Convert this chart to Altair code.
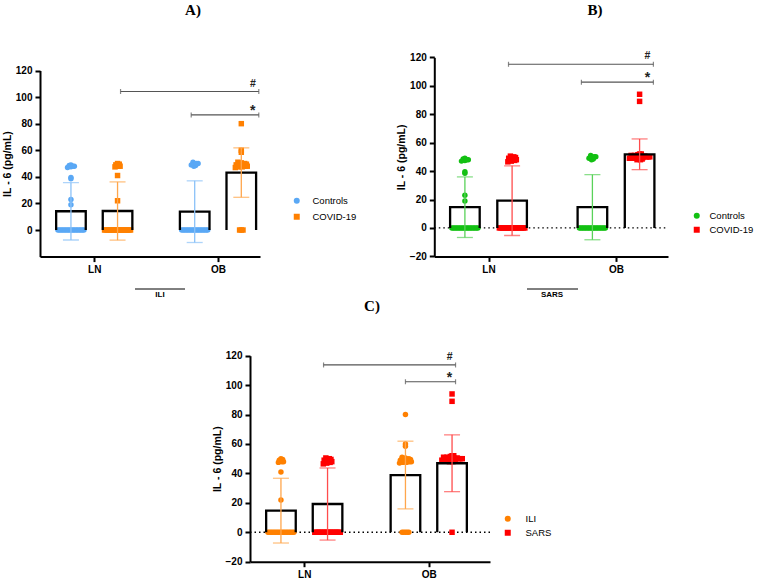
import altair as alt
import pandas as pd

W, H = 757, 582
FONT = "Liberation Sans"
SERIF = "Liberation Serif"

REGIONS = ["LN", "OB"]
Y_TITLE = "IL - 6 (pg/mL)"

# ---------------- Panel A (ILI) ----------------
A_TITLE = "A)"
A_GROUP_LABEL = "ILI"
A_GROUPS = ["Controls", "COVID-19"]
A_COLORS = ["#5AA8F5", "#FF8000"]
# order: LN-Controls, LN-COVID, OB-Controls, OB-COVID
A_MEANS = [14.1, 14.3, 13.8, 43.2]
A_SDS = [21.6, 21.9, 23.2, 18.6]
A_LN_G0 = [49, 48, 47.5, 48.5, 47, 48, 39.5, 38.5, 23, 19,
           0, 0, 0, 0, 0, 0, 0, 0, 0, 0, 0, 0, 0, 0, 0, 0, 0, 0]
A_LN_G1 = [50, 49, 48.5, 48, 47.5, 49.5, 48, 41, 22,
           0, 0, 0, 0, 0, 0, 0, 0, 0, 0, 0, 0, 0, 0, 0, 0, 0, 0]
A_OB_G0 = [51, 50, 49.5, 48.5, 48, 50, 49,
           0, 0, 0, 0, 0, 0, 0, 0, 0, 0, 0, 0, 0, 0, 0, 0, 0, 0]
A_OB_G1 = [80, 60, 58.5, 50.5, 49.5, 49, 48.5, 48, 47.5, 50, 49, 48, 47, 49.5,
           48.5, 51, 47.5, 48, 0, 0, 0]
A_BR_LABELS = ["#", "*"]
A_BR_Y = [104.2, 86.6]
A_BR_FROM = [("LN", "COVID-19"), ("OB", "Controls")]
A_BR_TO = [("OB", "COVID-19"), ("OB", "COVID-19")]

# ---------------- Panel B (SARS) ----------------
B_TITLE = "B)"
B_GROUP_LABEL = "SARS"
B_GROUPS = ["Controls", "COVID-19"]
B_COLORS = ["#12C012", "#FF0000"]
B_MEANS = [14.6, 19.2, 14.6, 51.8]
B_SDS = [21.3, 24.5, 22.9, 10.8]
B_LN_G0 = [49, 48, 47.5, 48.5, 47, 48, 39.5, 38.5, 23, 19,
           0, 0, 0, 0, 0, 0, 0, 0, 0, 0, 0, 0, 0, 0, 0, 0, 0, 0]
B_LN_G1 = [50, 49.5, 49, 48.5, 48, 50.5, 47.5, 49, 48, 47, 46.5,
           0, 0, 0, 0, 0, 0, 0, 0, 0, 0, 0, 0, 0, 0, 0, 0]
B_OB_G0 = [51, 50, 49.5, 48.5, 48, 50, 49,
           0, 0, 0, 0, 0, 0, 0, 0, 0, 0, 0, 0, 0, 0, 0, 0, 0, 0]
B_OB_G1 = [94, 89, 52, 51, 50.5, 50, 49.5, 49, 48.5, 48, 51.5, 50, 49, 48.5,
           50.5, 49.5, 51, 48, 50, 49, 52, 50.5]
B_BR_LABELS = ["#", "*"]
B_BR_Y = [115.1, 102.5]
B_BR_FROM = [("LN", "COVID-19"), ("OB", "Controls")]
B_BR_TO = [("OB", "COVID-19"), ("OB", "COVID-19")]

# ---------------- Panel C (ILI vs SARS) ----------------
C_TITLE = "C)"
C_GROUPS = ["ILI", "SARS"]
C_COLORS = ["#FF8000", "#FF0000"]
C_MEANS = [14.7, 19.2, 38.9, 46.9]
C_SDS = [22.0, 24.5, 23.0, 19.3]
C_LN_G0 = [50, 49, 48.5, 48, 47.5, 49.5, 48, 41, 22,
           0, 0, 0, 0, 0, 0, 0, 0, 0, 0, 0, 0, 0, 0, 0, 0, 0, 0]
C_LN_G1 = [50, 49.5, 49, 48.5, 48, 50.5, 47.5, 49, 48, 47, 46.5,
           0, 0, 0, 0, 0, 0, 0, 0, 0, 0, 0, 0, 0, 0, 0, 0]
C_OB_G0 = [80, 60, 58.5, 50.5, 49.5, 49, 48.5, 48, 47.5, 50, 49, 48, 47, 49.5,
           48.5, 51, 47.5, 48, 0, 0, 0, 0, 0]
C_OB_G1 = [94, 89, 52, 51, 50.5, 50, 49.5, 49, 48.5, 48, 51.5, 50, 49, 48.5,
           50.5, 49.5, 51, 48, 50, 49, 52, 50.5, 0]
C_BR_LABELS = ["#", "*"]
C_BR_Y = [113.7, 102.3]
C_BR_FROM = [("LN", "SARS"), ("OB", "ILI")]
C_BR_TO = [("OB", "SARS"), ("OB", "SARS")]

# ---------------- layout / style (pixels) ----------------
PANELS = [
    dict(title=A_TITLE, title_xy=(193, 10), group_label=A_GROUP_LABEL,
         gl_line=(135, 185, 289), gl_text=(160, 295),
         groups=A_GROUPS, colors=A_COLORS, means=A_MEANS, sds=A_SDS,
         values=[A_LN_G0, A_LN_G1, A_OB_G0, A_OB_G1],
         br=(A_BR_LABELS, A_BR_Y, A_BR_FROM, A_BR_TO),
         br_nudge_left=[3, -3.5], br_nudge_right=17.5,
         x0=40, x1=260, y_bot=256.6, y_top=70.5, ln=94.25, ob=218.0, goff=23.3,
         yticks=[0, 20, 40, 60, 80, 100, 120], zero_line=False,
         legend=(292, 196, 11, 5)),
    dict(title=B_TITLE, title_xy=(595, 10), group_label=B_GROUP_LABEL,
         gl_line=(527, 578, 289), gl_text=(552, 295),
         groups=B_GROUPS, colors=B_COLORS, means=B_MEANS, sds=B_SDS,
         values=[B_LN_G0, B_LN_G1, B_OB_G0, B_OB_G1],
         br=(B_BR_LABELS, B_BR_Y, B_BR_FROM, B_BR_TO),
         br_nudge_left=[-3.6, -11], br_nudge_right=13.8,
         x0=434.3, x1=668, y_bot=256.4, y_top=57.3, ln=488.5, ob=616.0, goff=23.6,
         yticks=[-20, 0, 20, 40, 60, 80, 100, 120], zero_line=True,
         legend=(692, 211, 8, 3)),
    dict(title=C_TITLE, title_xy=(372, 306), group_label=None,
         groups=C_GROUPS, colors=C_COLORS, means=C_MEANS, sds=C_SDS,
         values=[C_LN_G0, C_LN_G1, C_OB_G0, C_OB_G1],
         br=(C_BR_LABELS, C_BR_Y, C_BR_FROM, C_BR_TO),
         br_nudge_left=[-4, 0], br_nudge_right=3.5,
         x0=250, x1=490, y_bot=561.7, y_top=355.7, ln=304.25, ob=428.75, goff=23.3,
         yticks=[-20, 0, 20, 40, 60, 80, 100, 120], zero_line=True,
         legend=(503, 514, 13, 3)),
]
BAR_HALF_PX = 14.8
CAP_PX = 16
JIT_SPACING_PX = 1.7
JIT_MAX_PX = 13
LEGEND_FONT_SIZE = 9.5


def lighten(hex_color, f):
    h = hex_color.lstrip("#")
    r, g, b = (int(h[i:i + 2], 16) for i in (0, 2, 4))
    r, g, b = (int(c + (255 - c) * f) for c in (r, g, b))
    return f"#{r:02x}{g:02x}{b:02x}"


def jitter_px(values):
    bins = {}
    for i, v in enumerate(values):
        bins.setdefault(round(v / 2.5), []).append(i)
    offs = [0.0] * len(values)
    for idxs in bins.values():
        k = len(idxs)
        if k == 1:
            continue
        half = min((k - 1) * JIT_SPACING_PX / 2, JIT_MAX_PX)
        order = sorted(idxs, key=lambda i: values[i])
        slots = list(range(k))
        arranged = slots[0::2] + slots[1::2][::-1]
        for pos, i in zip(arranged, order):
            offs[i] = -half + 2 * half * pos / (k - 1)
    return offs


def build_panel(P):
    unit = P["ob"] - P["ln"]
    xdom = [(P["x0"] - P["ln"]) / unit, (P["x1"] - P["ln"]) / unit]
    xs = alt.Scale(domain=xdom, range=[P["x0"], P["x1"]], nice=False, zero=False)
    ys = alt.Scale(domain=[-20, 120], range=[P["y_bot"], P["y_top"]], nice=False, zero=False)
    label_expr = "[" + ",".join(f"'{r}'" for r in REGIONS) + "][datum.value]"
    xaxis = alt.Axis(orient="bottom", offset=P["y_bot"] - H, values=[0, 1],
                     labelExpr=label_expr, title=None, grid=False,
                     domainColor="black", domainWidth=2, tickColor="black",
                     tickWidth=2, tickSize=5, labelFont=FONT, labelFontSize=10,
                     labelFontWeight="bold", labelColor="black", labelPadding=3)
    yaxis = alt.Axis(orient="left", offset=-P["x0"], values=P["yticks"],
                     title=Y_TITLE, grid=False, domainColor="black", domainWidth=2,
                     tickColor="black", tickWidth=2, tickSize=5, labelFont=FONT,
                     labelFontSize=10, labelFontWeight="bold", labelColor="black",
                     labelPadding=3, titleFont=FONT, titleFontSize=10.5,
                     titleFontWeight="bold", titleColor="black", titlePadding=3)

    def X(f):
        return alt.X(f, type="quantitative", scale=xs, axis=xaxis)

    def Y(f):
        return alt.Y(f, type="quantitative", scale=ys, axis=yaxis)

    groups = P["groups"]
    goff = [-P["goff"] / unit, P["goff"] / unit]
    bh = BAR_HALF_PX / unit

    def center(region, group):
        return REGIONS.index(region) + goff[groups.index(group)]

    bar_rows, err_rows, cap_rows, pt_rows = [], [], [], []
    k = 0
    for ri, r in enumerate(REGIONS):
        for gi, g in enumerate(groups):
            m, sd = P["means"][k], P["sds"][k]
            xc = ri + goff[gi]
            bid = f"{r}-{g}"
            for o, (xx, yy) in enumerate([(xc - bh, 0), (xc - bh, m), (xc + bh, m), (xc + bh, 0)]):
                bar_rows.append(dict(bar=bid, ord=o, x=xx, y=yy))
            ec = lighten(P["colors"][gi], 0.3)
            err_rows.append(dict(x=xc, lo=m - sd, hi=m + sd, ecolor=ec))
            cap_rows.append(dict(x=xc, y=m - sd, ecolor=ec))
            cap_rows.append(dict(x=xc, y=m + sd, ecolor=ec))
            vals = P["values"][k]
            for v, j in zip(vals, jitter_px(vals)):
                pt_rows.append(dict(group=g, region=r, value=v, x=xc + j / unit))
            k += 1

    bar_df = pd.DataFrame(bar_rows)
    err_df = pd.DataFrame(err_rows)
    cap_df = pd.DataFrame(cap_rows)
    pt_df = pd.DataFrame(pt_rows)

    lx, ly, loff, lrow = P["legend"]
    leg = alt.Legend(orient="none", legendX=lx, legendY=ly, title=None,
                     labelFont=FONT, labelFontSize=LEGEND_FONT_SIZE, labelColor="black",
                     symbolSize=36, labelOffset=loff, rowPadding=lrow, padding=0,
                     symbolStrokeWidth=0)

    layers = []
    if P["zero_line"]:
        zdf = pd.DataFrame({"x1": [xdom[0]], "x2": [xdom[1]], "y": [0]})
        layers.append(alt.Chart(zdf).mark_rule(color="black", strokeWidth=1.3,
                                               strokeDash=[1.5, 3]).encode(
            x=X("x1"), x2="x2", y=Y("y")))

    layers.append(alt.Chart(pt_df).mark_point(filled=True, size=30, opacity=1,
                                              strokeWidth=0).encode(
        x=X("x"), y=Y("value"),
        color=alt.Color("group:N", scale=alt.Scale(domain=groups, range=P["colors"]), legend=leg),
        shape=alt.Shape("group:N", scale=alt.Scale(domain=groups, range=["circle", "square"]), legend=leg)))

    layers.append(alt.Chart(bar_df).mark_line(color="black", strokeWidth=2.3,
                                              strokeJoin="miter").encode(
        x=X("x"), y=Y("y"), detail="bar:N", order="ord:Q"))

    layers.append(alt.Chart(err_df).mark_rule(strokeWidth=1.3).encode(
        x=X("x"), y=Y("lo"), y2="hi", color=alt.Color("ecolor:N", scale=None)))
    layers.append(alt.Chart(cap_df).mark_tick(orient="horizontal", size=CAP_PX,
                                              thickness=1.3).encode(
        x=X("x"), y=Y("y"), color=alt.Color("ecolor:N", scale=None)))

    labels, ylev, frm, to = P["br"]
    br_rows, end_rows = [], []
    for i in range(len(labels)):
        x1 = center(*frm[i]) + P["br_nudge_left"][i] / unit
        x2 = center(*to[i]) + P["br_nudge_right"] / unit
        br_rows.append(dict(x1=x1, x2=x2, y=ylev[i], label=labels[i]))
        end_rows.append(dict(x=x1, y=ylev[i]))
        end_rows.append(dict(x=x2, y=ylev[i]))
    br_df = pd.DataFrame(br_rows)
    end_df = pd.DataFrame(end_rows)
    layers.append(alt.Chart(br_df).mark_rule(color="#555555", strokeWidth=1.2).encode(
        x=X("x1"), x2="x2", y=Y("y")))
    layers.append(alt.Chart(end_df).mark_tick(orient="vertical", size=5, thickness=1.2,
                                              color="#555555").encode(
        x=X("x"), y=Y("y")))
    layers.append(alt.Chart(br_df).transform_filter(alt.datum.label == "#").mark_text(
        font=FONT, fontSize=10.5, fontWeight="bold", color="#222222", dx=-6, dy=-5,
        baseline="alphabetic").encode(x=X("x2"), y=Y("y"), text="label:N"))
    layers.append(alt.Chart(br_df).transform_filter(alt.datum.label == "*").mark_text(
        font=FONT, fontSize=14, fontWeight="bold", color="#222222", dx=-6, dy=0,
        baseline="alphabetic").encode(x=X("x2"), y=Y("y"), text="label:N"))

    tx, ty = P["title_xy"]
    layers.append(alt.Chart(pd.DataFrame({"t": [P["title"]]})).mark_text(
        font=SERIF, fontSize=15, fontWeight="bold", color="black",
        baseline="middle", align="center").encode(
        x=alt.value(tx), y=alt.value(ty), text="t:N"))

    if P["group_label"]:
        gx1, gx2, gy = P["gl_line"]
        layers.append(alt.Chart(pd.DataFrame({"g": [P["group_label"]]})).mark_rule(
            color="black", strokeWidth=1).encode(
            x=alt.value(gx1), x2=alt.value(gx2), y=alt.value(gy)))
        gtx, gty = P["gl_text"]
        layers.append(alt.Chart(pd.DataFrame({"g": [P["group_label"]]})).mark_text(
            font=FONT, fontSize=8, fontWeight="bold", color="black",
            baseline="middle", align="center").encode(
            x=alt.value(gtx), y=alt.value(gty), text="g:N"))

    return alt.layer(*layers)


panels = [build_panel(P) for P in PANELS]

chart = alt.layer(*panels).resolve_scale(
    x="independent", y="independent", color="independent", shape="independent"
).resolve_axis(
    x="independent", y="independent"
).resolve_legend(
    color="independent", shape="independent"
).properties(
    width=W, height=H, autosize=alt.AutoSizeParams(type="none"), padding=0,
    background="white"
).configure_view(strokeWidth=0)

chart.save("out.html", embed_options={"renderer": "svg", "actions": False})
